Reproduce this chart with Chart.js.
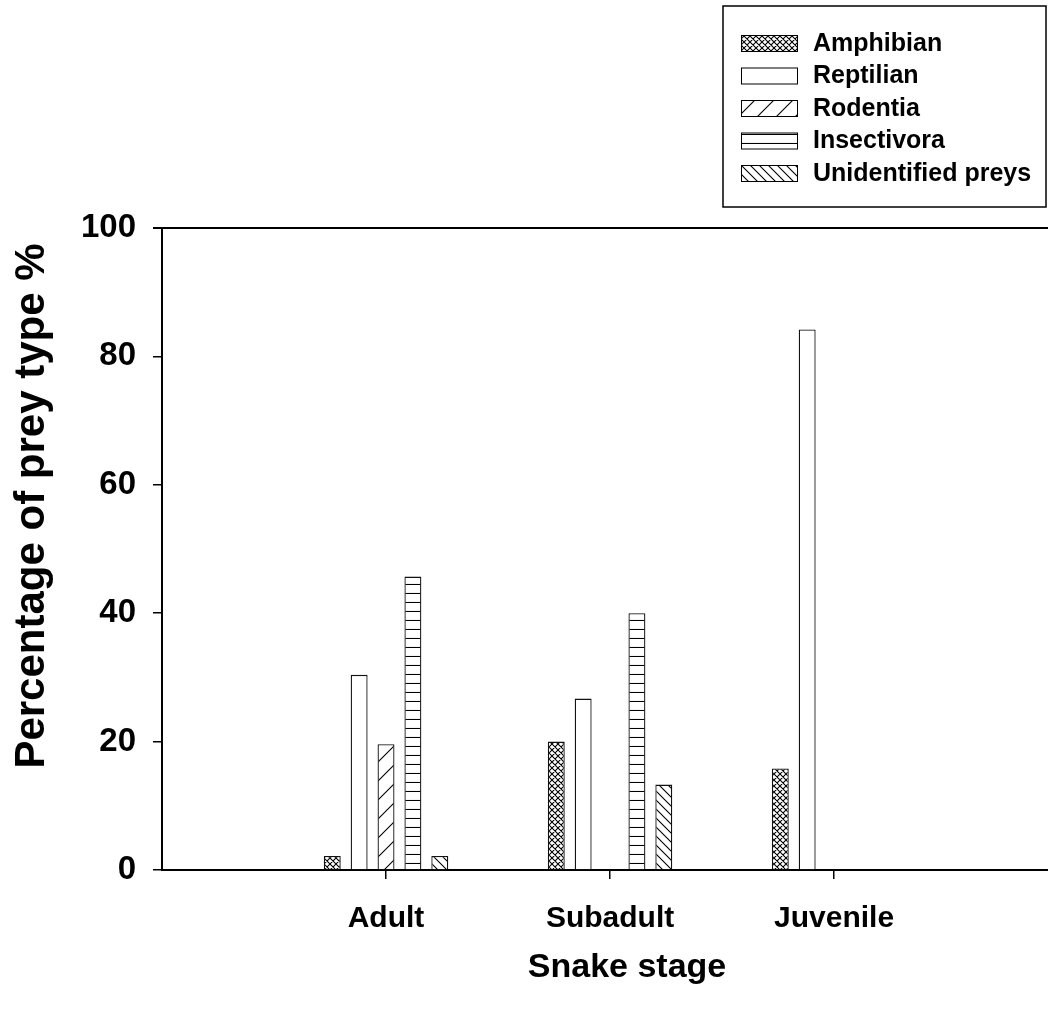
<!DOCTYPE html>
<html>
<head>
<meta charset="utf-8">
<script src="https://cdn.jsdelivr.net/npm/chart.js@4.4.1/dist/chart.umd.min.js"></script>
<style>
  html, body { margin: 0; padding: 0; background: #fff; overflow: hidden; }
  #wrap { width: 1048px; height: 1014px; }
</style>
</head>
<body>
<div id="wrap"><canvas id="chart" width="1048" height="1014"></canvas></div>
<script>
const categories = ["Adult", "Subadult", "Juvenile"];
const seriesNames = ["Amphibian", "Reptilian", "Rodentia", "Insectivora", "Unidentified preys"];
const amphibian = [2.2, 20.0, 15.8];
const reptilian = [30.4, 26.7, 84.2];
const rodentia = [19.6, 0, 0];
const insectivora = [45.7, 40.0, 0];
const unidentified = [2.2, 13.3, 0];
const yTicks = [0, 20, 40, 60, 80, 100];

const FONT = "'Liberation Sans', Arial, sans-serif";

// hatch fills, drawn on small tiles
function makePattern(kind) {
  const sizes = { cross: 6, plain: 4, slash: 19, hline: 9, backslash: 9 };
  const s = sizes[kind];
  const c = document.createElement("canvas");
  c.width = s; c.height = s;
  const g = c.getContext("2d");
  g.fillStyle = "#fff";
  g.fillRect(0, 0, s, s);
  g.strokeStyle = "#000";
  g.lineWidth = 1.1;
  g.beginPath();
  if (kind === "cross" || kind === "slash") {
    g.moveTo(-1, s + 1); g.lineTo(s + 1, -1);
    g.moveTo(-1, 1); g.lineTo(1, -1);
    g.moveTo(s - 1, s + 1); g.lineTo(s + 1, s - 1);
  }
  if (kind === "cross" || kind === "backslash") {
    g.moveTo(-1, -1); g.lineTo(s + 1, s + 1);
    g.moveTo(s - 1, -1); g.lineTo(s + 1, 1);
    g.moveTo(-1, s - 1); g.lineTo(1, s + 1);
  }
  if (kind === "hline") {
    g.moveTo(0, s - 0.5); g.lineTo(s, s - 0.5);
  }
  g.stroke();
  return g.createPattern(c, "repeat");
}

const fills = [makePattern("cross"), makePattern("plain"), makePattern("slash"),
  makePattern("hline"), makePattern("backslash")];
const values = [amphibian, reptilian, rodentia, insectivora, unidentified];

const datasets = seriesNames.map((name, k) => ({
  label: name,
  data: values[k].map((v, i) => ({ x: i + 1, y: v === 0 ? null : v })),
  backgroundColor: fills[k],
  borderColor: "#111",
  borderWidth: 1.3,
  borderSkipped: "bottom",
  categoryPercentage: 0.6,
  barPercentage: 0.63
}));

const framePlugin = {
  id: "frame",
  afterDraw(chart) {
    const { ctx, chartArea } = chart;
    ctx.save();
    ctx.strokeStyle = "#000";
    ctx.lineWidth = 2;
    ctx.beginPath();
    ctx.moveTo(chartArea.left - 9, chartArea.top);
    ctx.lineTo(chartArea.right, chartArea.top);
    ctx.stroke();

    // axis titles
    ctx.fillStyle = "#000";
    ctx.textAlign = "center";
    ctx.textBaseline = "middle";
    ctx.font = "bold 34px " + FONT;
    ctx.fillText("Snake stage", 627, 968);
    ctx.save();
    ctx.translate(32, 506);
    ctx.rotate(-Math.PI / 2);
    ctx.font = "bold 42px " + FONT;
    ctx.fillText("Percentage of prey type %", 0, 0);
    ctx.restore();

    // legend box
    const bx = 723, by = 6, bw = 323, bh = 201;
    ctx.fillStyle = "#fff";
    ctx.fillRect(bx, by, bw, bh);
    ctx.lineWidth = 1.5;
    ctx.strokeRect(bx, by, bw, bh);
    ctx.textAlign = "left";
    ctx.font = "bold 25px " + FONT;
    chart.data.datasets.forEach((ds, k) => {
      const cy = 43 + k * 32.5;
      ctx.fillStyle = ds.backgroundColor;
      ctx.fillRect(741, cy - 8, 56, 16);
      ctx.lineWidth = 1;
      ctx.strokeRect(741.5, cy - 7.5, 56, 16);
      ctx.fillStyle = "#000";
      ctx.fillText(ds.label, 813, cy + 1);
    });
    ctx.restore();
  }
};

new Chart(document.getElementById("chart"), {
  type: "bar",
  data: { datasets },
  options: {
    responsive: false,
    animation: false,
    layout: { padding: { top: 228, left: 0, right: 0, bottom: 0 } },
    plugins: { legend: { display: false }, tooltip: { enabled: false } },
    scales: {
      x: {
        type: "linear",
        min: 0,
        max: 3.955,
        offset: false,
        afterBuildTicks: (scale) => { scale.ticks = categories.map((c, i) => ({ value: i + 1 })); },
        afterFit: (scale) => { scale.height = 144; },
        ticks: {
          callback: (v) => categories[v - 1],
          color: "#000",
          font: { family: FONT, size: 30, weight: "bold" },
          padding: 22,
          maxRotation: 0,
          autoSkip: false
        },
        grid: { offset: false, drawOnChartArea: false, drawTicks: true, tickLength: 9, color: "#000", lineWidth: 1.5 },
        border: { display: true, color: "#000", width: 2 }
      },
      y: {
        min: 0,
        max: 100,
        afterBuildTicks: (scale) => { scale.ticks = yTicks.map((v) => ({ value: v })); },
        afterFit: (scale) => { scale.width = 162; },
        ticks: {
          color: "#000",
          font: { family: FONT, size: 33, weight: "bold" },
          padding: 17
        },
        grid: { drawOnChartArea: false, drawTicks: true, tickLength: 9, color: "#000", lineWidth: 1.5 },
        border: { display: true, color: "#000", width: 2 }
      }
    }
  },
  plugins: [framePlugin]
});
</script>
</body>
</html>
